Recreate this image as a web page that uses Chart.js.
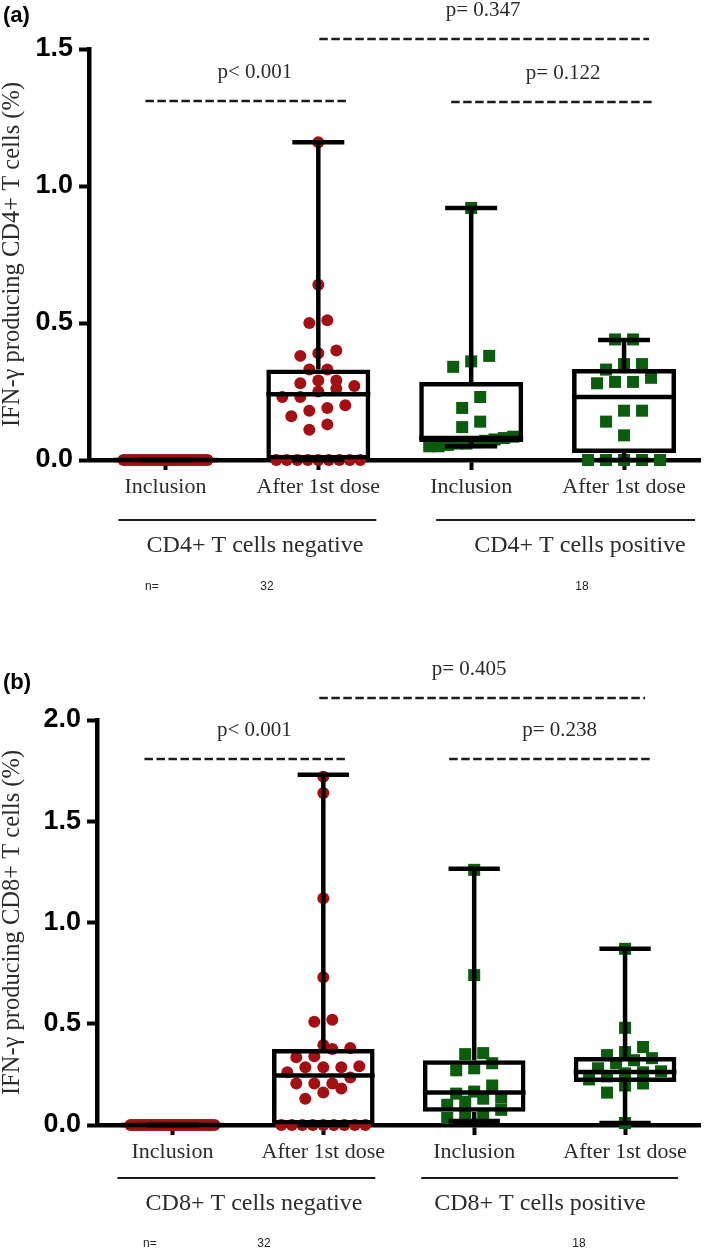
<!DOCTYPE html>
<html>
<head>
<meta charset="utf-8">
<script src="https://cdn.jsdelivr.net/npm/chart.js@4.4.1/dist/chart.umd.min.js"></script>
<style>
  html, body { margin: 0; padding: 0; background: #fff; }
  canvas { display: block; }
</style>
</head>
<body>
<canvas id="chartA" width="709" height="615"></canvas>
<canvas id="chartB" width="709" height="634"></canvas>
<script>
// categories on the x axis
const categories = ['Inclusion', 'After 1st dose', 'Inclusion', 'After 1st dose'];

// panel (a): IFN-g producing CD4+ T cells (%)
const cd4NegIncl = [0, 0, 0, 0, 0, 0, 0, 0, 0, 0, 0, 0, 0, 0, 0, 0,
                    0, 0, 0, 0, 0, 0, 0, 0, 0, 0, 0, 0, 0, 0, 0, 0];
const cd4NegDose1 = [1.16, 0.64, 0.50, 0.51, 0.40, 0.38, 0.39, 0.33, 0.33, 0.29, 0.29, 0.28,
                     0.27, 0.26, 0.25, 0.23, 0.23, 0.20, 0.19, 0.16, 0.18, 0.13, 0.11,
                     0, 0, 0, 0, 0, 0, 0, 0, 0];
const cd4PosIncl = [0.92, 0.38, 0.36, 0.34, 0.23, 0.19, 0.14, 0.12, 0.085, 0.08, 0.075,
                    0.07, 0.065, 0.06, 0.06, 0.055, 0.05, 0.05];
const cd4PosDose1 = [0.44, 0.44, 0.35, 0.35, 0.33, 0.30, 0.285, 0.28, 0.285, 0.18, 0.18,
                     0.14, 0.09, 0, 0, 0, 0, 0];
const cd4Q1 = [0, 0, 0.066, 0.026];
const cd4Median = [0, 0.24, 0.08, 0.23];
const cd4Q3 = [0, 0.33, 0.285, 0.332];
const cd4Min = [0, 0, 0.05, 0];
const cd4Max = [0, 1.16, 0.92, 0.438];

// panel (b): IFN-g producing CD8+ T cells (%)
const cd8NegIncl = [0, 0, 0, 0, 0, 0, 0, 0, 0, 0, 0, 0, 0, 0, 0, 0,
                    0, 0, 0, 0, 0, 0, 0, 0, 0, 0, 0, 0, 0, 0, 0, 0];
const cd8NegDose1 = [1.72, 1.64, 1.12, 0.73, 0.51, 0.52, 0.395, 0.38, 0.375, 0.34, 0.335,
                     0.29, 0.285, 0.285, 0.285, 0.26, 0.235, 0.205, 0.205, 0.205, 0.18,
                     0.16, 0.13, 0, 0, 0, 0, 0, 0, 0, 0, 0];
const cd8PosIncl = [1.26, 0.74, 0.355, 0.35, 0.305, 0.28, 0.27, 0.195, 0.165, 0.155, 0.135,
                    0.13, 0.115, 0.10, 0.075, 0.04, 0.04, 0.035];
const cd8PosDose1 = [0.87, 0.48, 0.385, 0.36, 0.345, 0.33, 0.32, 0.305, 0.28, 0.265, 0.26,
                     0.255, 0.24, 0.225, 0.205, 0.195, 0.16, 0.01];
const cd8Q1 = [0, 0, 0.065, 0.212];
const cd8Median = [0, 0.245, 0.16, 0.262];
const cd8Q3 = [0, 0.375, 0.32, 0.336];
const cd8Min = [0, 0, 0.02, 0.01];
const cd8Max = [0, 1.73, 1.265, 0.87];

const SERIF = '"Liberation Serif", "Times New Roman", serif';
const SANS = '"Liberation Sans", Arial, sans-serif';
const RED = '#a30f12';
const GREEN = '#0b5c0e';
const BOX_PCT = 0.68;

// spread equal-ish values sideways (in pixels), like Prism's scatter columns
function swarmOffsets(values, yScale) {
  const maxHalf = 42, step = 18, binPx = 11;
  const order = values.map((v, k) => k).sort((a, b) => values[a] - values[b]);
  const offsets = values.map(() => 0);
  let bin = [];
  const flush = () => {
    const n = bin.length;
    const s = n > 1 ? Math.min(step, (2 * maxHalf) / (n - 1)) : 0;
    bin.forEach((k, j) => { offsets[k] = (j - (n - 1) / 2) * s; });
    bin = [];
  };
  order.forEach(k => {
    if (bin.length) {
      const d = Math.abs(yScale.getPixelForValue(values[k]) - yScale.getPixelForValue(values[bin[0]]));
      if (d > binPx) flush();
    }
    bin.push(k);
  });
  flush();
  return offsets;
}

// whiskers, caps and median lines
function boxPlugin(st) {
  return {
    id: 'boxWhiskers',
    afterDatasetsDraw(chart) {
      const { ctx, scales: { x, y } } = chart;
      const half = (x.getPixelForValue(1) - x.getPixelForValue(0)) * BOX_PCT / 2;
      const seg = (x0, y0, x1, y1) => { ctx.beginPath(); ctx.moveTo(x0, y0); ctx.lineTo(x1, y1); ctx.stroke(); };
      ctx.save();
      ctx.strokeStyle = '#000';
      ctx.lineWidth = 4.5;
      st.median.forEach((m, i) => {
        const cx = x.getPixelForValue(i);
        const p = v => y.getPixelForValue(v);
        seg(cx, p(st.q3[i]), cx, p(st.max[i]));
        seg(cx - half / 2, p(st.max[i]), cx + half / 2, p(st.max[i]));
        seg(cx, p(st.q1[i]), cx, p(st.min[i]));
        seg(cx - half / 2, p(st.min[i]), cx + half / 2, p(st.min[i]));
        seg(cx - half, p(m), cx + half, p(m));
      });
      ctx.restore();
    }
  };
}

// p-value bars, group brackets, n counts, panel letter
function notesPlugin(cfg) {
  return {
    id: 'notes',
    afterDraw(chart) {
      const { ctx, scales: { x } } = chart;
      const cx = i => x.getPixelForValue(i);
      ctx.save();
      ctx.fillStyle = '#000';
      ctx.font = 'bold 22px ' + SANS;
      ctx.textAlign = 'left';
      ctx.fillText(cfg.tag, 3, cfg.tagY);

      ctx.strokeStyle = '#1c1c1c';
      ctx.fillStyle = '#2b2b2b';
      ctx.font = '21px ' + SERIF;
      ctx.textAlign = 'center';
      cfg.pBars.forEach(b => {
        const x0 = cx(b.from) + b.dx0, x1 = cx(b.to) + b.dx1;
        ctx.lineWidth = 2.5;
        ctx.setLineDash([8.5, 3.5]);
        ctx.beginPath(); ctx.moveTo(x0, b.y); ctx.lineTo(x1, b.y); ctx.stroke();
        ctx.fillText(b.label, (x0 + x1) / 2 + b.ldx, b.y - 23);
      });

      ctx.setLineDash([]);
      ctx.font = '24px ' + SERIF;
      cfg.groups.forEach(g => {
        ctx.lineWidth = 2;
        ctx.beginPath(); ctx.moveTo(cx(g.from) + g.dx0, cfg.groupY); ctx.lineTo(cx(g.to) + g.dx1, cfg.groupY); ctx.stroke();
        ctx.fillText(g.label, g.lx, cfg.groupY + 32);
      });

      ctx.font = '12px ' + SANS;
      ctx.fillStyle = '#222';
      ctx.textAlign = 'left';
      ctx.fillText('n=', cfg.nX, cfg.nY);
      ctx.textAlign = 'center';
      cfg.counts.forEach(c => ctx.fillText(c.text, c.x, cfg.nY));
      ctx.restore();
    }
  };
}

function makePanel(id, cfg) {
  const groups = cfg.groups;
  const pointSets = groups.map((vals, i) => ({
    type: 'scatter',
    order: 1,
    clip: false,
    data: vals.map(v => ({ x: i, y: v })),
    pointStyle: i < 2 ? 'circle' : 'rect',
    pointRadius: i < 2 ? 6 : 8.5,
    pointBackgroundColor: i < 2 ? RED : GREEN,
    pointBorderWidth: 0,
    pointHoverRadius: 0
  }));
  const boxSet = {
    type: 'bar',
    order: 0,
    clip: false,
    data: cfg.stats.q1.map((q, i) => ({ x: i, y: [q, cfg.stats.q3[i]] })),
    backgroundColor: 'rgba(0,0,0,0)',
    borderColor: '#000',
    borderWidth: 4.5,
    borderSkipped: false,
    barPercentage: BOX_PCT,
    categoryPercentage: 1
  };
  const axisGrid = {
    drawOnChartArea: false, drawTicks: true, offset: false,
    tickLength: 10, tickWidth: 4, tickColor: '#000', color: '#000'
  };
  const chart = new Chart(document.getElementById(id), {
    data: { datasets: [boxSet, ...pointSets] },
    options: {
      responsive: false,
      animation: false,
      events: [],
      layout: { padding: { top: cfg.top, right: cfg.right, left: 0, bottom: 0 } },
      plugins: { legend: { display: false }, tooltip: { enabled: false } },
      scales: {
        x: {
          type: 'linear',
          offset: false,
          min: -0.5,
          max: 3.5,
          afterBuildTicks: s => { s.ticks = categories.map((c, i) => ({ value: i })); },
          afterFit: s => { s.height = cfg.xHeight; },
          ticks: {
            callback: (v, i) => categories[i],
            autoSkip: false,
            maxRotation: 0,
            padding: 4,
            color: '#2b2b2b',
            font: { family: SERIF, size: 22 }
          },
          grid: axisGrid,
          border: { display: true, color: '#000', width: 4.5 }
        },
        y: {
          min: 0,
          max: cfg.yMax,
          afterFit: s => { s.width = cfg.yWidth; },
          ticks: {
            stepSize: 0.5,
            callback: v => v.toFixed(1),
            color: '#000',
            padding: 6,
            font: { family: SANS, size: 27, weight: 'bold' }
          },
          grid: axisGrid,
          border: { display: true, color: '#000', width: 4.5 },
          title: {
            display: true,
            text: cfg.yTitle,
            color: '#2b2b2b',
            padding: 0,
            font: { family: SERIF, size: 24.5, lineHeight: 1.05 }
          }
        }
      }
    },
    plugins: [boxPlugin(cfg.stats), notesPlugin(cfg.notes)]
  });

  // lay the dots out sideways now that the scales exist
  const xs = chart.scales.x, ys = chart.scales.y;
  const unit = xs.getPixelForValue(1) - xs.getPixelForValue(0);
  groups.forEach((vals, i) => {
    const off = swarmOffsets(vals, ys);
    chart.data.datasets[i + 1].data = vals.map((v, k) => ({ x: i + off[k] / unit, y: v }));
  });
  chart.update('none');
  return chart;
}

makePanel('chartA', {
  groups: [cd4NegIncl, cd4NegDose1, cd4PosIncl, cd4PosDose1],
  stats: { q1: cd4Q1, median: cd4Median, q3: cd4Q3, min: cd4Min, max: cd4Max },
  yMax: 1.5,
  yTitle: 'IFN-\u03b3 producing CD4+ T cells (%)',
  top: 49, right: 2, yWidth: 89, xHeight: 155,
  notes: {
    tag: '(a)', tagY: 22,
    pBars: [
      { from: 0, to: 1, dx0: -20, dx1: 28, y: 101, label: 'p< 0.001', ldx: 9 },
      { from: 1, to: 3, dx0: 1, dx1: 25, y: 39, label: 'p= 0.347', ldx: -1 },
      { from: 2, to: 3, dx0: -20, dx1: 31, y: 102, label: 'p= 0.122', ldx: 10 }
    ],
    groupY: 520,
    groups: [
      { from: 0, to: 1, dx0: -47, dx1: 58, label: 'CD4+ T cells negative', lx: 255 },
      { from: 2, to: 3, dx0: -35, dx1: 71, label: 'CD4+ T cells positive', lx: 580 }
    ],
    nX: 145, nY: 590,
    counts: [{ text: '32', x: 267 }, { text: '18', x: 582 }]
  }
});

makePanel('chartB', {
  groups: [cd8NegIncl, cd8NegDose1, cd8PosIncl, cd8PosDose1],
  stats: { q1: cd8Q1, median: cd8Median, q3: cd8Q3, min: cd8Min, max: cd8Max },
  yMax: 2.0,
  yTitle: 'IFN-\u03b3 producing CD8+ T cells (%)',
  top: 105, right: 1, yWidth: 97, xHeight: 124,
  notes: {
    tag: '(b)', tagY: 74,
    pBars: [
      { from: 0, to: 1, dx0: -28, dx1: 23, y: 144, label: 'p< 0.001', ldx: 9 },
      { from: 1, to: 3, dx0: -4, dx1: 20, y: 83, label: 'p= 0.405', ldx: -13 },
      { from: 2, to: 3, dx0: -25, dx1: 25, y: 144, label: 'p= 0.238', ldx: 10 }
    ],
    groupY: 563,
    groups: [
      { from: 0, to: 1, dx0: -55, dx1: 52, label: 'CD8+ T cells negative', lx: 254 },
      { from: 2, to: 3, dx0: -53, dx1: 53, label: 'CD8+ T cells positive', lx: 540 }
    ],
    nX: 143, nY: 632,
    counts: [{ text: '32', x: 264 }, { text: '18', x: 579 }]
  }
});
</script>
</body>
</html>
